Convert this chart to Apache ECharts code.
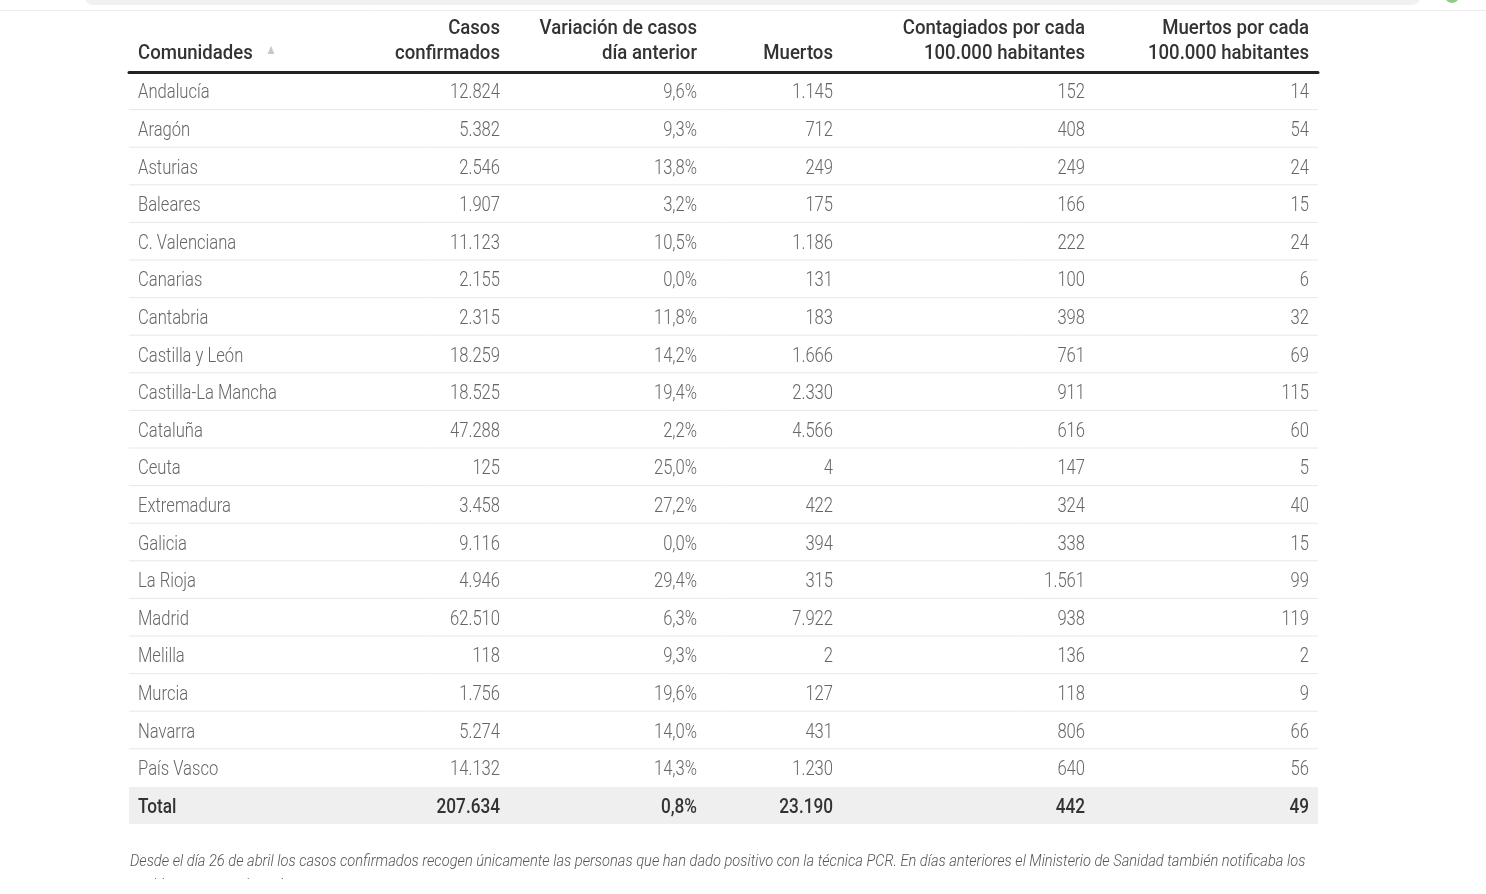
<!DOCTYPE html>
<html>
<head>
<meta charset="utf-8">
<script src="https://cdn.jsdelivr.net/npm/echarts@6/dist/echarts.min.js"></script>
<style>html,body{margin:0;padding:0;background:#fff}#main{width:1486px;height:894px}</style>
</head>
<body>
<div id="main"></div>
<script>
// table values
const comunidades = ['Andalucía','Aragón','Asturias','Baleares','C. Valenciana','Canarias','Cantabria','Castilla y León','Castilla-La Mancha','Cataluña','Ceuta','Extremadura','Galicia','La Rioja','Madrid','Melilla','Murcia','Navarra','País Vasco','Total'];
const casos = [12824, 5382, 2546, 1907, 11123, 2155, 2315, 18259, 18525, 47288, 125, 3458, 9116, 4946, 62510, 118, 1756, 5274, 14132, 207634];
const variacion = [9.6, 9.3, 13.8, 3.2, 10.5, 0.0, 11.8, 14.2, 19.4, 2.2, 25.0, 27.2, 0.0, 29.4, 6.3, 9.3, 19.6, 14.0, 14.3, 0.8];
const muertos = [1145, 712, 249, 175, 1186, 131, 183, 1666, 2330, 4566, 4, 422, 394, 315, 7922, 2, 127, 431, 1230, 23190];
const contagiados100k = [152, 408, 249, 166, 222, 100, 398, 761, 911, 616, 147, 324, 338, 1561, 938, 136, 118, 806, 640, 442];
const muertos100k = [14, 54, 24, 15, 24, 6, 32, 69, 115, 60, 5, 40, 15, 99, 119, 2, 9, 66, 56, 49];
const headers = [
  ['Comunidades'],
  ['Casos', 'confirmados'],
  ['Variación de casos', 'día anterior'],
  ['Muertos'],
  ['Contagiados por cada', '100.000 habitantes'],
  ['Muertos por cada', '100.000 habitantes']
];
const nota = ['Desde el día 26 de abril los casos confirmados recogen únicamente las personas que han dado positivo con la técnica PCR. En días anteriores el Ministerio de Sanidad también notificaba los',
  'positivos por test de anticuerpos.'];

// layout: column anchors (x in table units), first is left-aligned
const colX = [9, 371, 568, 704, 956, 1180];
const tableLeft = 129, tableWidth = 1189;
const FONT = 'Roboto, "Noto Sans", sans-serif';

const fmtInt = v => String(v).replace(/\B(?=(\d{3})+(?!\d))/g, '.');
const fmtPct = v => v.toFixed(1).replace('.', ',') + '%';

// cell strings per row (formatted), row index first for the axis
const rows = comunidades.map((c, i) => [i, c, fmtInt(casos[i]), fmtPct(variacion[i]), fmtInt(muertos[i]), fmtInt(contagiados100k[i]), fmtInt(muertos100k[i])]);

const chart = echarts.init(document.getElementById('main'));

function renderRow(params, api){
  const idx = api.value(0);
  const cells = rows[params.dataIndex];
  const cs = params.coordSys;
  const y = api.coord([0, idx])[1];
  const bandH = api.size([0, 1])[1];
  const isTotal = idx === comunidades.length - 1;
  const children = [];
  if(isTotal){
    children.push({ type:'rect', shape:{ x: cs.x, y: y - bandH/2 + 0.5, width: cs.width, height: bandH - 0.5 }, style:{ fill:'#efefef' } });
  } else if(idx < comunidades.length - 2){
    children.push({ type:'line', shape:{ x1: cs.x, y1: y + bandH/2, x2: cs.x + cs.width, y2: y + bandH/2 }, style:{ stroke:'#e8e8e8', lineWidth:1 } });
  }
  for(let c = 0; c < colX.length; c++){
    children.push({
      type:'text',
      x: cs.x + colX[c], y: y + 2.5,
      scaleX: isTotal ? 0.86 : 0.83,
      style:{
        text: cells[c + 1],
        align: c === 0 ? 'left' : 'right',
        verticalAlign:'middle',
        fill: isTotal ? '#333' : '#666',
        font: (isTotal ? '500 ' : '300 ') + '20px ' + FONT
      }
    });
  }
  return { type:'group', children };
}

// header and note as graphic text
const graphics = [
  { type:'rect', shape:{ x:85, y:-12, width:1335, height:17, r:8 }, style:{ fill:'#f1f1f1' } },
  { type:'line', shape:{ x1:0, y1:10.5, x2:1486, y2:10.5 }, style:{ stroke:'#ededed', lineWidth:1 } },
  { type:'circle', shape:{ cx:1452, cy:-4, r:7 }, style:{ fill:'#8fcf85' } }
];
headers.forEach((h, c) => {
  const lines = h.length === 1 ? [null, h[0]] : h;
  lines.forEach((t, li) => {
    if(!t) return;
    graphics.push({
      type:'text', x: tableLeft + colX[c], y: li === 0 ? 29 : 54, scaleX: 0.93,
      style:{ text:t, align: c === 0 ? 'left' : 'right', verticalAlign:'middle', fill:'#333', font:'500 20px ' + FONT }
    });
  });
});
graphics.push({ type:'text', x:271, y:50, scaleX:0.8, style:{ text:'▲', align:'center', verticalAlign:'middle', fill:'#c8c8c8', font:'14px ' + FONT } });
nota.forEach((t, i) => {
  graphics.push({ type:'text', x:130, y:862 + i*24, scaleX:0.862,
    style:{ text:t, align:'left', verticalAlign:'middle', fill:'#555', font:'italic 300 17px ' + FONT } });
});
// the second line of the note is cut by the page edge
graphics.push({ type:'rect', shape:{ x:0, y:879, width:1486, height:20 }, style:{ fill:'#fff' } });

chart.setOption({
  animation:false,
  backgroundColor:'#fff',
  grid:{ left: tableLeft, width: tableWidth, top: 72, height: 752 },
  xAxis:{ type:'value', min:0, max: tableWidth, position:'top',
    axisLine:{ show:true, onZero:false, lineStyle:{ color:'#222', width:3 } },
    axisTick:{ show:false }, axisLabel:{ show:false }, splitLine:{ show:false } },
  yAxis:{ type:'category', data: comunidades, inverse:true, show:false },
  series:[{ type:'custom', renderItem: renderRow, data: rows, encode:{ y:0 }, silent:true }],
  graphic: graphics
});
</script>
</body>
</html>
